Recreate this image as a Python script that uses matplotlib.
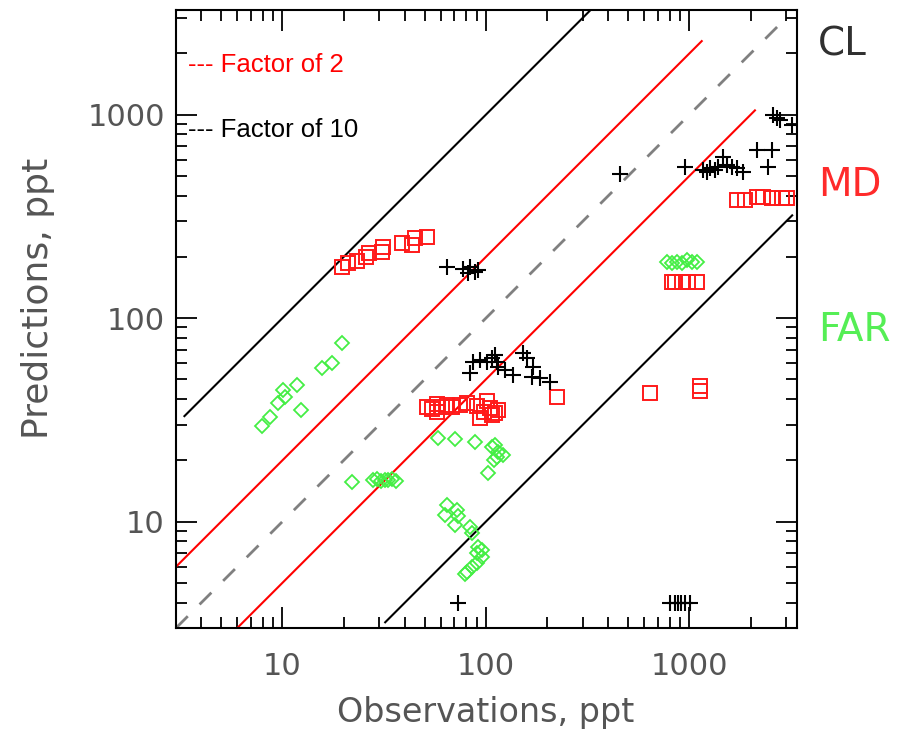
import matplotlib
matplotlib.use("Agg")
import matplotlib.pyplot as plt
from matplotlib.ticker import LogLocator, NullFormatter, FixedLocator, FixedFormatter
import numpy as np

# CL (crosses)
cl_obs = [64.2, 77.4, 83.6, 88.4, 91.5, 81.7,
          86.7, 83.6, 93.6, 100.9, 106.8, 111, 113, 115, 124, 136, 153, 159, 171, 168, 184, 207,
          456, 951, 1170, 1216, 1262, 1337, 1387, 1467, 1525, 1615, 1708, 1841,
          2143, 2538, 2443, 2583, 2686, 2788, 3193,
          72.9, 804, 850, 879, 910, 951, 1006]
cl_pred = [178, 174, 178, 169, 172, 166,
           61.1, 53.5, 62.2, 61.1, 63.4, 65.9, 61.1, 57.7, 55.6, 52.5, 67.2, 63.4, 57.7, 51.5, 50.6, 48.7,
           510, 555, 535, 524, 545, 535, 555, 621, 565, 555, 545, 524,
           671, 671, 555, 996, 959, 941, 889,
           4.0, 4.0, 4.0, 4.0, 4.0, 4.0, 4.0]

# MD (squares)
md_obs = [19.6, 21.1, 23.2, 25.7, 26.7, 30.8, 31.1, 38.6, 43.2, 44.8, 51.2,
          51.2, 54.3, 57.3, 60.6, 64.2, 68.1, 74.6, 80.5, 90.1, 93.6, 100.9, 104.7, 106.8, 111, 115, 97.9, 57.5,
          223,
          1708, 1876, 2143, 2308, 2538, 2841, 3006,
          819, 850, 916, 988, 1087,
          640, 1128, 1128]
md_pred = [179, 186, 191, 200, 208, 212, 223, 233, 229, 247, 251,
           36.7, 35.7, 37.8, 36.6, 37.4, 36.6, 37.4, 38.1, 37.0, 32.2, 39.1, 36.1, 33.4, 34.1, 35.3, 34.5, 34.5,
           41.1,
           380, 380, 395, 395, 388, 388, 388,
           151, 151, 151, 151, 151,
           43.0, 44.0, 46.5]

# FAR (diamonds)
far_obs = [19.6, 17.5, 15.6, 11.8, 10.1, 10.3, 9.55, 8.69, 7.91, 12.4,
           21.9, 27.9, 29.2, 30.5, 31.8, 33.2, 34.6, 36.2,
           58.4, 70.5, 88.4, 106.8, 111, 115, 122, 113, 109, 103,
           64.2, 63.0, 71.8, 73.2, 70.5, 83.6, 85.2, 91.8, 95.4, 90.1, 95.4, 90.1, 85.2, 80.5, 78.9,
           773, 819, 866, 916, 970, 1026, 1087]
far_pred = [75.7, 60.0, 56.7, 46.9, 44.3, 41.1, 38.1, 32.8, 29.5, 35.3,
            15.7, 16.0, 16.2, 15.9, 16.1, 16.0, 16.2, 15.9,
            25.9, 25.5, 24.5, 23.3, 23.8, 22.0, 21.2, 20.8, 20.1, 17.3,
            12.1, 10.8, 11.4, 10.6, 9.62, 9.44, 8.75, 7.53, 7.25, 6.99, 6.72, 6.24, 6.0, 5.68, 5.52,
            189, 186, 189, 186, 193, 189, 189]

# reference lines: (factor, x-start, x-end)
ref_lines = [(10.0, 3.3, 330.0), (2.0, 3.0, 1150.0), (0.5, 5.6, 2100.0), (0.1, 32.0, 3200.0)]
line_colors = ['black', 'red', 'red', 'black']

x_ticks = [10, 100, 1000]
x_tick_labels = ['10', '100', '1000']

fig = plt.figure(figsize=(9.17, 7.33), dpi=100)
ax = fig.add_axes([176 / 917, 1 - 628 / 733, 621 / 917, 618 / 733])
ax.set_xscale('log')
ax.set_yscale('log')
ax.set_xlim(3, 3380)
ax.set_ylim(3, 3270)

# one-to-one line
ax.plot([3, 3000], [3, 3000], color='#808080', lw=2.0, dashes=(6, 6))
for (f, x0, x1), c in zip(ref_lines, line_colors):
    ax.plot([x0, x1], [f * x0, f * x1], color=c, lw=1.5)

ax.plot(far_obs, far_pred, linestyle='none', marker='D', ms=7.2, mfc='none',
        mec='#44ee44', mew=1.3)
ax.plot(md_obs, md_pred, linestyle='none', marker='s', ms=10, mfc='none',
        mec='#ff1a1a', mew=1.4)
ax.plot(cl_obs, cl_pred, linestyle='none', marker='+', ms=12, color='black', mew=1.5)

label_color = '#555555'
for axis in (ax.xaxis, ax.yaxis):
    axis.set_major_locator(FixedLocator(x_ticks))
    axis.set_major_formatter(FixedFormatter(x_tick_labels))
    axis.set_minor_locator(LogLocator(base=10, subs=np.arange(2, 10), numticks=20))
    axis.set_minor_formatter(NullFormatter())
ax.tick_params(which='both', direction='in', top=True, right=True, color='black',
               width=1.3, labelsize=22, labelcolor=label_color)
ax.tick_params(which='major', length=15)
ax.tick_params(which='minor', length=8)
ax.tick_params(axis='x', which='major', pad=17)
ax.tick_params(axis='y', which='major', pad=8)
for s in ax.spines.values():
    s.set_linewidth(1.5)

ax.set_xlabel('Observations, ppt', fontsize=24, color=label_color)
ax.set_ylabel('Predictions, ppt', fontsize=26, color=label_color)
ax.xaxis.set_label_coords(0.499, -0.11)
ax.yaxis.set_label_coords(-0.195, 0.534)

ax.text(0.02, 0.911, '--- Factor of 2', transform=ax.transAxes, color='red',
        fontsize=18.5, family='Liberation Sans', va='center')
ax.text(0.02, 0.806, '--- Factor of 10', transform=ax.transAxes, color='black',
        fontsize=18.5, family='Liberation Sans', va='center')

fig.text(818 / 917, 1 - 45 / 733, 'CL', color='#303030', fontsize=28, va='center')
fig.text(818 / 917, 1 - 185 / 733, 'MD', color='#ff2a2a', fontsize=28, va='center')
fig.text(818 / 917, 1 - 330 / 733, 'FAR', color='#55ee55', fontsize=28, va='center')

fig.savefig('out.png', dpi=100)
